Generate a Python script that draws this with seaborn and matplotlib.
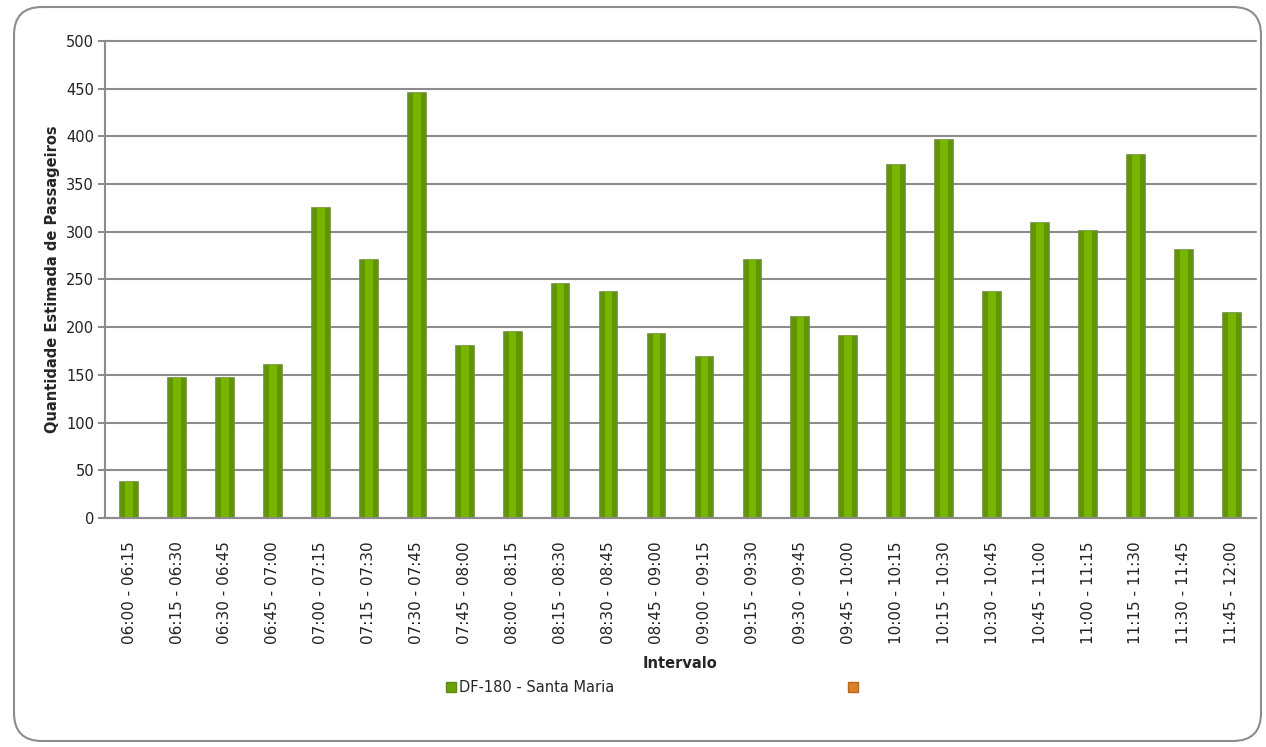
import matplotlib
matplotlib.use("Agg")
import matplotlib.pyplot as plt
import seaborn as sns
import pandas as pd
import numpy as np
from matplotlib.patches import FancyBboxPatch, Patch

intervals = ["06:00 - 06:15", "06:15 - 06:30", "06:30 - 06:45", "06:45 - 07:00",
             "07:00 - 07:15", "07:15 - 07:30", "07:30 - 07:45", "07:45 - 08:00",
             "08:00 - 08:15", "08:15 - 08:30", "08:30 - 08:45", "08:45 - 09:00",
             "09:00 - 09:15", "09:15 - 09:30", "09:30 - 09:45", "09:45 - 10:00",
             "10:00 - 10:15", "10:15 - 10:30", "10:30 - 10:45", "10:45 - 11:00",
             "11:00 - 11:15", "11:15 - 11:30", "11:30 - 11:45", "11:45 - 12:00"]
santa_maria = [38, 147, 147, 160, 325, 270, 446, 180, 195, 245, 237, 193,
               169, 270, 211, 191, 370, 396, 237, 309, 301, 381, 281, 215]
series_name = "DF-180 - Santa Maria"
y_ticks = [0, 50, 100, 150, 200, 250, 300, 350, 400, 450, 500]

sns.set_theme(style="white")
plt.rcParams['font.family'] = ['DejaVu Sans']

fig = plt.figure(figsize=(12.66, 7.47), dpi=100)
ax = fig.add_axes([0.083, 0.3066, 0.909, 0.6385])

df = pd.DataFrame({"Intervalo": intervals, "Valor": santa_maria})
sns.barplot(data=df, x="Intervalo", y="Valor", ax=ax, color="#5f9600",
            width=0.37, edgecolor="#6b8f2e", linewidth=1.2, saturation=1)
sns.barplot(data=df, x="Intervalo", y="Valor", ax=ax, color="#78b500",
            width=0.16, linewidth=0, saturation=1)

ax.set_ylim(0, 500)
ax.set_xlim(-0.5, len(intervals) - 0.5)
ax.set_yticks(y_ticks)
ax.yaxis.grid(True, color="#8c8c8c", linewidth=1.5)
for gl in ax.get_ygridlines():
    gl.set_clip_on(False)
ax.set_axisbelow(True)
for s in ["top", "right"]:
    ax.spines[s].set_visible(False)
for s in ["left", "bottom"]:
    ax.spines[s].set_color("#8c8c8c")
    ax.spines[s].set_linewidth(1.5)

ax.set_xticks(range(len(intervals)))
ax.set_xticklabels(intervals, rotation=90, fontsize=11, color="#222222")
ax.set_xticks(np.arange(-0.5, len(intervals), 1.0), minor=True)
ax.tick_params(axis="x", which="major", length=0, pad=17)
ax.tick_params(axis="x", which="minor", length=5, width=1.5, color="#8c8c8c", direction="out")
ax.tick_params(axis="y", length=5, width=1.5, color="#8c8c8c", direction="out",
               labelsize=10.5, labelcolor="#222222", left=True, pad=3)

ax.set_xlabel("Intervalo", fontsize=10.5, fontweight="bold", labelpad=8)
ax.set_ylabel("Quantidade Estimada de Passageiros", fontsize=10.5, fontweight="bold", labelpad=4)

handles = [Patch(facecolor="#6aa300", edgecolor="#5b8a16", label=series_name),
           Patch(facecolor="#d9822b", edgecolor="#b8661a", label=" ")]
fig.legend(handles=handles, loc="center", bbox_to_anchor=(0.518, 0.079), ncol=2,
           frameon=False, fontsize=10.5, columnspacing=16, handlelength=0.7,
           handleheight=0.7, handletextpad=0.2)

frame = FancyBboxPatch((0.14, 0.06), 12.47, 7.34, transform=fig.dpi_scale_trans,
                       boxstyle="round,pad=0,rounding_size=0.28",
                       facecolor="none", edgecolor="#8c8c8c", linewidth=1.5)
fig.patches.append(frame)

fig.savefig("out.png", dpi=100)
